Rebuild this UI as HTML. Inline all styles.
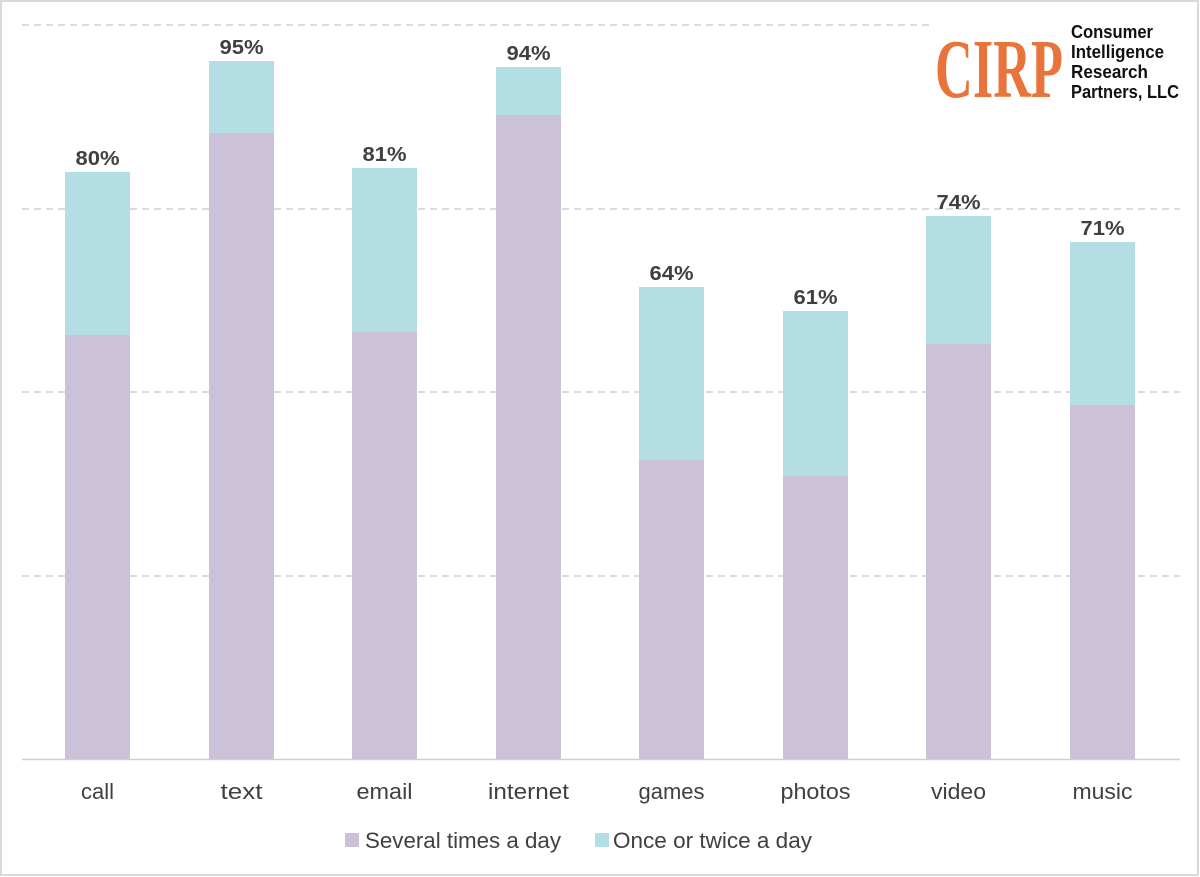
<!DOCTYPE html>
<html><head><style>
body{margin:0;background:#fff;}
svg{display:block;font-family:"Liberation Sans",sans-serif;}
</style></head><body>
<svg width="1200" height="877" viewBox="0 0 1200 877">
<rect x="1" y="1" width="1197" height="874" fill="#fff" stroke="#d9d9d9" stroke-width="2"/>
<g stroke="#d0d0d0" stroke-width="1.5" stroke-dasharray="7,5">
<line x1="22" y1="25" x2="1180" y2="25"/>
<line x1="22" y1="209" x2="1180" y2="209"/>
<line x1="22" y1="392" x2="1180" y2="392"/>
<line x1="22" y1="576" x2="1180" y2="576"/>
</g>
<g fill="#cbc1d9">
<rect x="65" y="335" width="65" height="424"/>
<rect x="209" y="133" width="65" height="626"/>
<rect x="352" y="332" width="65" height="427"/>
<rect x="496" y="115" width="65" height="644"/>
<rect x="639" y="460" width="65" height="299"/>
<rect x="783" y="476" width="65" height="283"/>
<rect x="926" y="344" width="65" height="415"/>
<rect x="1070" y="405" width="65" height="354"/>
</g>
<g fill="#b3dee3">
<rect x="65" y="172" width="65" height="163"/>
<rect x="209" y="61" width="65" height="72"/>
<rect x="352" y="168" width="65" height="164"/>
<rect x="496" y="67" width="65" height="48"/>
<rect x="639" y="287" width="65" height="173"/>
<rect x="783" y="311" width="65" height="165"/>
<rect x="926" y="216" width="65" height="128"/>
<rect x="1070" y="242" width="65" height="163"/>
</g>
<line x1="22" y1="759.5" x2="1180" y2="759.5" stroke="#d0d0d0" stroke-width="1.5"/>
<g font-size="20" font-weight="bold" fill="#404040" text-anchor="middle">
<text x="97.5" y="165" textLength="44" lengthAdjust="spacingAndGlyphs">80%</text>
<text x="241.5" y="54" textLength="44" lengthAdjust="spacingAndGlyphs">95%</text>
<text x="384.5" y="161" textLength="44" lengthAdjust="spacingAndGlyphs">81%</text>
<text x="528.5" y="60" textLength="44" lengthAdjust="spacingAndGlyphs">94%</text>
<text x="671.5" y="280" textLength="44" lengthAdjust="spacingAndGlyphs">64%</text>
<text x="815.5" y="304" textLength="44" lengthAdjust="spacingAndGlyphs">61%</text>
<text x="958.5" y="209" textLength="44" lengthAdjust="spacingAndGlyphs">74%</text>
<text x="1102.5" y="235" textLength="44" lengthAdjust="spacingAndGlyphs">71%</text>
</g>
<g font-size="22" fill="#404040" text-anchor="middle">
<text x="97.5" y="799" textLength="33" lengthAdjust="spacingAndGlyphs">call</text>
<text x="241.5" y="799" textLength="42" lengthAdjust="spacingAndGlyphs">text</text>
<text x="384.5" y="799" textLength="56" lengthAdjust="spacingAndGlyphs">email</text>
<text x="528.5" y="799" textLength="81" lengthAdjust="spacingAndGlyphs">internet</text>
<text x="671.5" y="799" textLength="66" lengthAdjust="spacingAndGlyphs">games</text>
<text x="815.5" y="799" textLength="70" lengthAdjust="spacingAndGlyphs">photos</text>
<text x="958.5" y="799" textLength="55" lengthAdjust="spacingAndGlyphs">video</text>
<text x="1102.5" y="799" textLength="60" lengthAdjust="spacingAndGlyphs">music</text>
</g>
<rect x="345" y="833" width="14" height="14" fill="#cbc1d9"/>
<text x="365" y="848" font-size="22" fill="#404040" textLength="196" lengthAdjust="spacingAndGlyphs">Several times a day</text>
<rect x="595" y="833" width="14" height="14" fill="#b3dee3"/>
<text x="613" y="848" font-size="22" fill="#404040" textLength="199" lengthAdjust="spacingAndGlyphs">Once or twice a day</text>
<rect x="930" y="14" width="250" height="90" fill="#fff"/>
<text x="935" y="97" font-size="84" font-weight="bold" fill="#e8743b" textLength="128" lengthAdjust="spacingAndGlyphs" font-family="Liberation Serif,serif">CIRP</text>
<g font-size="18" font-weight="bold" fill="#111">
<text x="1071" y="38" textLength="82" lengthAdjust="spacingAndGlyphs">Consumer</text>
<text x="1071" y="58" textLength="93" lengthAdjust="spacingAndGlyphs">Intelligence</text>
<text x="1071" y="78" textLength="77" lengthAdjust="spacingAndGlyphs">Research</text>
<text x="1071" y="98" textLength="108" lengthAdjust="spacingAndGlyphs">Partners, LLC</text>
</g>
</svg>
</body></html>
